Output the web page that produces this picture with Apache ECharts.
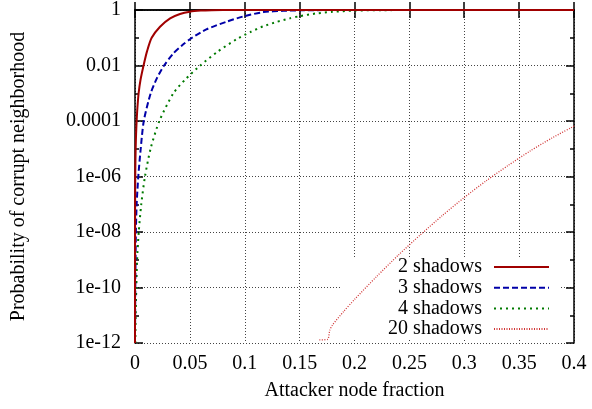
<!DOCTYPE html>
<html>
<head>
<meta charset="utf-8">
<script src="https://cdn.jsdelivr.net/npm/echarts@6/dist/echarts.min.js"></script>
<style>
  html, body { margin: 0; padding: 0; background: #fff; }
  #chart { width: 592px; height: 409px; }
</style>
</head>
<body>
<div id="chart"></div>
<script>
// Probability of a corrupt neighborhood vs. attacker node fraction.
// Each series is a list of [attacker fraction, probability] pairs.
const seriesNames = ['2 shadows', '3 shadows', '4 shadows', '20 shadows'];

const shadows2 = [
  [0.000005, 1e-12], [0.00002, 1e-10], [0.0001, 1e-7], [0.0003, 2e-6],
  [0.0006, 1e-5], [0.001, 3.5e-5], [0.0015, 1e-4], [0.0022, 3e-4],
  [0.0033, 1e-3], [0.005, 3e-3], [0.0078, 0.01], [0.011, 0.033],
  [0.0152, 0.1], [0.0228, 0.25], [0.032, 0.5], [0.041, 0.72],
  [0.05, 0.87], [0.06, 0.95], [0.07, 0.985], [0.08, 0.996],
  [0.1, 0.9999], [0.4, 1]
];

const shadows3 = [
  [0.0001, 5e-12], [0.0003, 1.5e-10], [0.0005, 1e-9], [0.0008, 1e-8],
  [0.0015, 1e-7], [0.003, 1e-6], [0.0052, 1e-5], [0.008, 1e-4],
  [0.0143, 1e-3], [0.02, 3.5e-3], [0.0265, 0.01], [0.035, 0.0275],
  [0.043, 0.054], [0.052, 0.1], [0.065, 0.2], [0.0835, 0.38],
  [0.099, 0.59], [0.117, 0.84], [0.135, 0.93], [0.15, 0.972],
  [0.175, 0.995], [0.2, 0.9993], [0.25, 1], [0.4, 1]
];

const shadows4 = [
  [0.0003, 1e-12], [0.0006, 1e-11], [0.0012, 1e-10], [0.0019, 1e-9],
  [0.0034, 1e-8], [0.0057, 1e-7], [0.0091, 1e-6], [0.0142, 1e-5],
  [0.0222, 1e-4], [0.035, 1e-3], [0.046, 3.2e-3], [0.0592, 0.0098],
  [0.075, 0.031], [0.0927, 0.089], [0.105, 0.16], [0.117, 0.26],
  [0.129, 0.37], [0.141, 0.5], [0.15, 0.6], [0.165, 0.75],
  [0.18, 0.86], [0.2, 0.95], [0.225, 0.984], [0.25, 0.995],
  [0.3, 0.9998], [0.4, 1]
];

const shadows20 = [
  [0.168, 1.3e-12], [0.1755, 1.35e-12], [0.1775, 2.9e-12], [0.18, 4.5e-12],
  [0.19, 1.35e-11], [0.2, 3.7e-11], [0.22, 2.45e-10], [0.24, 1.48e-9],
  [0.26, 7.9e-9], [0.28, 3.9e-8], [0.3, 1.75e-7], [0.32, 7e-7],
  [0.34, 2.5e-6], [0.36, 8.3e-6], [0.38, 2.45e-5], [0.4, 6.5e-5]
];

// Decade labels for the probability axis, bottom to top (every 2 decades).
const yTickLabels = ['1e-12', '1e-10', '1e-08', '1e-06', '0.0001', '0.01', '1'];
const yMinExp = -12;
const yMaxExp = 0;

const FONT = 'Liberation Serif';
// The probability axis is laid out in decades (log10 of the probability).
const toDecades = pts => pts.map(([f, p]) => [f, Math.log10(p)]);

const frameLine = { show: true, lineStyle: { color: '#000', width: 1.5 } };
const gridDots = { show: true, lineStyle: { color: '#444', width: 1, type: [1, 2] } };
const noLabel = { show: false };
const majorTick = { show: true, inside: true, length: 8, lineStyle: { color: '#000', width: 1.5 } };
const minorTick = { show: true, inside: true, length: 4, lineStyle: { color: '#000', width: 1.5 } };

const chart = echarts.init(document.getElementById('chart'), null, { renderer: 'canvas' });

chart.setOption({
  animation: false,
  backgroundColor: '#fff',
  grid: { left: 135, right: 18, top: 10, bottom: 66, containLabel: false },
  xAxis: [
    {
      type: 'value', position: 'bottom', min: 0, max: 0.4, interval: 0.05,
      name: 'Attacker node fraction', nameLocation: 'middle', nameGap: 38,
      nameTextStyle: { fontFamily: FONT, fontSize: 20, color: '#000' },
      axisLine: frameLine,
      axisTick: majorTick,
      axisLabel: { fontFamily: FONT, fontSize: 20, color: '#000', margin: 11 },
      splitLine: gridDots
    },
    {
      type: 'value', position: 'top', min: 0, max: 0.4, interval: 0.05,
      axisLine: frameLine, axisTick: majorTick,
      axisLabel: noLabel, splitLine: { show: false }
    }
  ],
  yAxis: [
    {
      type: 'value', position: 'left', min: yMinExp, max: yMaxExp, interval: 2,
      name: 'Probability of corrupt neighborhood', nameLocation: 'middle', nameGap: 106,
      nameTextStyle: { fontFamily: FONT, fontSize: 20, color: '#000' },
      axisLine: frameLine,
      axisTick: majorTick,
      axisLabel: {
        fontFamily: FONT, fontSize: 20, color: '#000', margin: 14,
        formatter: v => yTickLabels[Math.round((v - yMinExp) / 2)]
      },
      splitLine: gridDots
    },
    {
      type: 'value', position: 'left', min: yMinExp, max: yMaxExp, interval: 1,
      axisLine: { show: false }, axisTick: minorTick,
      axisLabel: noLabel, splitLine: { show: false }
    },
    {
      type: 'value', position: 'right', min: yMinExp, max: yMaxExp, interval: 2,
      axisLine: frameLine, axisTick: majorTick,
      axisLabel: noLabel, splitLine: { show: false }
    },
    {
      type: 'value', position: 'right', min: yMinExp, max: yMaxExp, interval: 1,
      axisLine: { show: false }, axisTick: minorTick,
      axisLabel: noLabel, splitLine: { show: false }
    }
  ],
  legend: {
    data: seriesNames,
    orient: 'vertical',
    align: 'right',
    right: 32,
    top: 257,
    padding: [0, 10, 0, 47],
    itemGap: 0.7,
    itemWidth: 55,
    itemHeight: 14,
    backgroundColor: '#fff',
    selectedMode: false,
    z: 1,
    itemStyle: { opacity: 0 },
    textStyle: { fontFamily: FONT, fontSize: 20, color: '#000', lineHeight: 20, padding: [0, 7, 0, 0] }
  },
  series: [
    {
      name: seriesNames[0], type: 'line', data: toDecades(shadows2),
      showSymbol: false, symbol: 'none', smooth: 0.25,
      lineStyle: { color: '#a00000', width: 2, type: 'solid' },
      itemStyle: { color: '#a00000' }, z: 5
    },
    {
      name: seriesNames[1], type: 'line', data: toDecades(shadows3),
      showSymbol: false, symbol: 'none', smooth: 0.25,
      lineStyle: { color: '#0000a8', width: 2, type: [6, 3] },
      itemStyle: { color: '#0000a8' }, z: 4
    },
    {
      name: seriesNames[2], type: 'line', data: toDecades(shadows4),
      showSymbol: false, symbol: 'none', smooth: 0.25,
      lineStyle: { color: '#007a00', width: 2, type: [2, 4] },
      itemStyle: { color: '#007a00' }, z: 3
    },
    {
      name: seriesNames[3], type: 'line', data: toDecades(shadows20),
      showSymbol: false, symbol: 'none', smooth: 0.25,
      lineStyle: { color: '#d03535', width: 1.3, type: [1, 1.5] },
      itemStyle: { color: '#d03535' }, z: 2
    }
  ]
});
</script>
</body>
</html>
